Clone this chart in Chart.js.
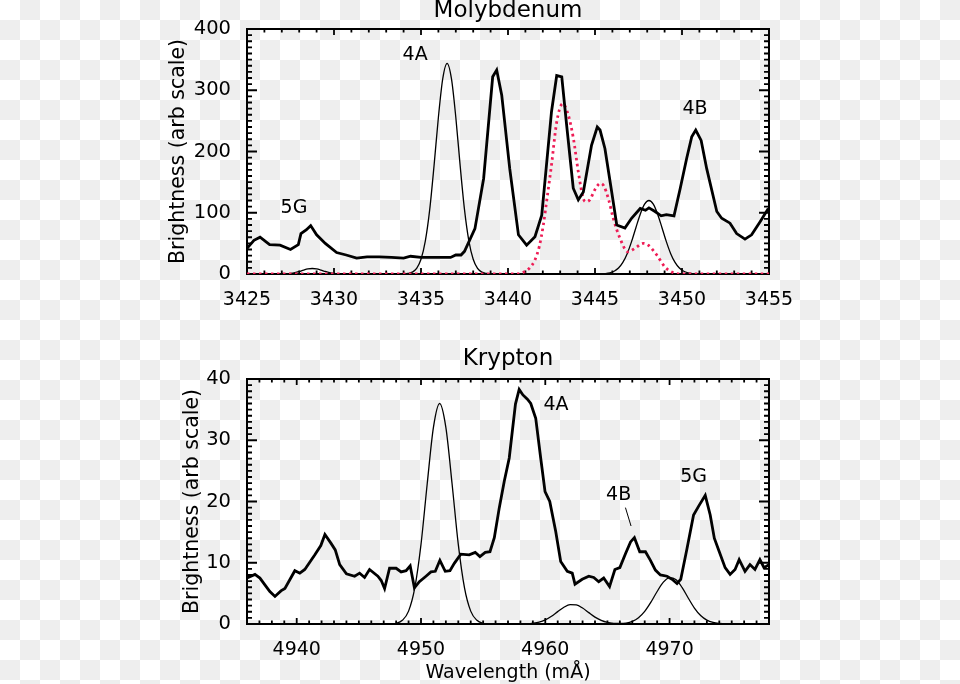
<!DOCTYPE html>
<html>
<head>
<meta charset="utf-8">
<script src="https://cdn.jsdelivr.net/npm/chart.js@4"></script>
<style>
  html, body { margin: 0; padding: 0; }
  body {
    width: 960px; height: 684px; overflow: hidden; position: relative;
    background: repeating-conic-gradient(#eeeeee 0 25%, #ffffff 0 50%) 0 0 / 40px 40px;
  }
  canvas { position: absolute; left: 0; }
</style>
</head>
<body>
<canvas id="mo" width="960" height="330" style="top:0px"></canvas>
<canvas id="kr" width="960" height="354" style="top:330px"></canvas>
<script>
// ---------------- Molybdenum data ----------------
const moXTicks = [3425, 3430, 3435, 3440, 3445, 3450, 3455];
const moYTicks = [0, 100, 200, 300, 400];

const moObsX = [3425.0,3425.4,3425.75,3426.3,3426.9,3427.5,3427.95,3428.1,3428.4,3428.66,3429.0,3429.5,3430.15,3430.7,3431.3,3431.9,3432.6,3433.3,3434.0,3434.4,3435.0,3435.6,3436.3,3436.7,3437.0,3437.3,3437.5,3438.1,3438.6,3439.12,3439.35,3439.64,3440.1,3440.6,3441.07,3441.55,3441.94,3442.5,3442.8,3443.09,3443.37,3443.75,3444.04,3444.33,3444.8,3445.13,3445.29,3445.57,3445.96,3446.25,3446.72,3447.1,3447.6,3447.9,3448.1,3448.45,3448.8,3449.1,3449.54,3449.9,3450.27,3450.56,3450.79,3451.1,3451.42,3452.0,3452.28,3452.76,3453.14,3453.62,3454.0,3454.48,3454.96];
const moObsY = [42,55,60,48,47,40,48,66,72,79,64,50,35,31,26,28,28,27,26,29,27,27,27,27,31,31,37,74,156,322,333,292,172,64,47,61,96,265,324,322,243,140,121,134,210,240,235,205,134,80,75,91,107,104,108,102,95,97,95,140,189,224,235,218,172,102,91,83,66,57,64,85,107];

const moFitX = [3425,3426.75,3427.0,3427.25,3427.5,3427.75,3428.0,3428.25,3428.5,3428.75,3429.0,3429.25,3429.5,3429.75,3430.0,3430.25,3430.5,3430.75,3433.75,3434.0,3434.25,3434.5,3434.75,3435.0,3435.25,3435.5,3435.75,3436.0,3436.25,3436.5,3436.75,3437.0,3437.25,3437.5,3437.75,3438.0,3438.25,3438.5,3438.75,3439.0,3439.25,3445.1,3445.35,3445.6,3445.85,3446.1,3446.35,3446.6,3446.85,3447.1,3447.35,3447.6,3447.85,3448.1,3448.35,3448.6,3448.85,3449.1,3449.35,3449.6,3449.85,3450.1,3450.35,3450.6,3450.85,3451.1,3455];
const moFitY = [0,0,0.1,0.4,1.0,2.2,4.1,6.4,8.3,9,8.3,6.4,4.1,2.2,1.0,0.4,0.1,0,0,0.2,0.9,3.0,9.2,24,54,105,177,256,319,344,319,256,177,105,54,24,9.2,3.0,0.9,0.2,0,0,0.2,0.7,1.9,4.5,9.7,18.9,33.2,52.8,75.6,97.7,114,120,114,97.7,75.6,52.8,33.2,18.9,9.7,4.5,1.9,0.7,0.2,0,0];

const moModX = [3425,3440.5,3440.98,3441.25,3441.55,3441.8,3442.03,3442.25,3442.5,3442.8,3443.14,3443.47,3443.76,3444.04,3444.33,3444.5,3444.7,3445.0,3445.3,3445.5,3445.77,3446.05,3446.44,3446.9,3447.3,3447.78,3448.06,3448.55,3449.0,3449.3,3449.6,3450,3455];
const moModY = [0,0,4,10,23,45,80,125,178,248,278,259,221,167,123,118,121,138,148,144,123,91,58,36,42,50,47,31,12,5,1,0,0];

const moLabelText = ['5G', '4A', '4B'];
const moLabelX = [3427.7, 3434.66, 3450.75];
const moLabelY = [108, 358, 270];

// ---------------- Krypton data ----------------
const krXTicks = [4940, 4950, 4960, 4970];
const krYTicks = [0, 10, 20, 30, 40];

const krObsX = [4936.0,4936.64,4937.04,4937.44,4937.84,4938.25,4938.73,4939.05,4939.85,4940.25,4940.65,4941.46,4941.94,4942.27,4942.75,4943.1,4943.46,4944.0,4944.66,4945.06,4945.46,4945.86,4946.53,4946.8,4947.07,4947.47,4948.0,4948.4,4948.8,4949.13,4949.47,4949.87,4950.4,4950.8,4951.15,4951.52,4951.95,4952.33,4952.68,4953.2,4953.88,4954.36,4954.74,4955.17,4955.55,4955.9,4956.3,4956.7,4957.1,4957.6,4957.9,4958.2,4958.56,4958.83,4959.23,4959.63,4959.98,4960.36,4960.84,4961.24,4961.77,4962.17,4962.39,4962.97,4963.5,4963.9,4964.3,4964.7,4965.17,4965.6,4966.0,4966.46,4966.86,4967.17,4967.6,4968.06,4968.46,4968.86,4969.26,4969.8,4970.2,4970.6,4970.9,4971.4,4971.93,4972.33,4972.87,4973.27,4973.6,4974.0,4974.47,4974.87,4975.27,4975.6,4976.07,4976.47,4976.87,4977.27,4977.6,4978.0];
const krObsY = [7.5,8.1,7.5,6.4,5.3,4.5,5.4,5.8,8.7,8.3,8.9,11.3,12.8,14.6,13.2,12.1,9.7,8.2,7.8,8.3,7.6,8.9,7.8,7.1,5.8,9.1,9.1,8.5,8.7,9.5,5.9,6.9,7.8,8.5,8.6,10.4,8.6,8.7,9.9,11.4,11.3,11.7,11.0,11.7,11.8,14.1,19.0,23.3,27.1,35.9,38.3,37.4,36.7,36.0,33.6,27.1,21.6,20.0,15.1,10.2,8.6,8.3,6.5,7.3,7.8,7.6,6.9,7.5,6.1,8.9,9.2,11.5,13.4,14.1,11.8,11.8,10.4,8.8,8.0,7.8,7.3,6.6,7.3,12.3,17.8,19.2,21.0,17.8,14.0,11.8,9.2,8.1,8.9,10.5,8.6,9.7,8.9,10.5,9.2,9.7];

const krFitX = [4936,4947.5,4948,4948.5,4949,4949.5,4950,4950.5,4951,4951.5,4952,4952.5,4953,4953.5,4954,4954.5,4955,4955.5,4958.5,4959,4959.5,4960,4960.5,4961,4961.5,4962,4962.5,4963,4963.5,4964,4964.5,4965,4965.5,4966,4966.5,4967,4967.5,4968,4968.5,4969,4969.5,4970,4970.5,4971,4971.5,4972,4972.5,4973,4973.5,4974,4974.5,4978];
const krFitY = [0,0,0.1,0.6,2.1,5.9,13.0,22.9,32.1,36,32.1,22.9,13.0,5.9,2.1,0.6,0.1,0,0,0.12,0.31,0.68,1.27,2.02,2.74,3.16,3.11,2.61,1.86,1.13,0.59,0.26,0.11,0.08,0.16,0.44,1.03,2.06,3.56,5.31,6.83,7.58,7.25,5.98,4.25,2.61,1.38,0.63,0.25,0.08,0,0];

const krLabelText = ['4A', '4B', '5G'];
const krLabelX = [4960.86, 4965.9, 4971.93];
const krLabelY = [35.8, 21.0, 24.0];
const krLeaderX = [4966.45, 4966.9];
const krLeaderY = [19.0, 16.0];

// ---------------- helpers ----------------
const pts = (xs, ys) => xs.map((x, i) => ({ x: x, y: ys[i] }));
Chart.defaults.font.family = "'DejaVu Sans', sans-serif";
Chart.defaults.color = '#000';

const framePlugin = {
  id: 'frameTicks',
  beforeDatasetsDraw(chart, args, o) {
    const { ctx, chartArea: a, scales: { x, y } } = chart;
    ctx.save();
    ctx.strokeStyle = '#000';
    ctx.lineCap = 'butt';
    const nx = Math.round((x.max - x.min) / o.xMinor);
    for (let i = 0; i <= nx; i++) {
      const v = x.min + i * o.xMinor;
      const major = Math.abs(v / o.xMajor - Math.round(v / o.xMajor)) < 1e-6;
      const len = major ? o.xMajLen : o.xMinLen;
      const px = x.getPixelForValue(v);
      ctx.lineWidth = 1.8;
      ctx.beginPath();
      ctx.moveTo(px, a.bottom); ctx.lineTo(px, a.bottom - len);
      ctx.moveTo(px, a.top); ctx.lineTo(px, a.top + len);
      ctx.stroke();
    }
    const ny = Math.round((y.max - y.min) / o.yMinor);
    for (let i = 0; i <= ny; i++) {
      const v = y.min + i * o.yMinor;
      const major = Math.abs(v / o.yMajor - Math.round(v / o.yMajor)) < 1e-6;
      const len = major ? o.yMajLen : o.yMinLen;
      const py = y.getPixelForValue(v);
      ctx.lineWidth = 1.8;
      ctx.beginPath();
      ctx.moveTo(a.left, py); ctx.lineTo(a.left + len, py);
      ctx.moveTo(a.right, py); ctx.lineTo(a.right - len, py);
      ctx.stroke();
    }
    ctx.lineWidth = 2;
    ctx.strokeRect(a.left, a.top, a.right - a.left, a.bottom - a.top);
    ctx.restore();
  },
  afterDatasetsDraw(chart, args, o) {
    const { ctx, scales: { x, y } } = chart;
    ctx.save();
    ctx.fillStyle = '#000';
    ctx.font = "19px 'DejaVu Sans'";
    ctx.textAlign = 'center';
    ctx.textBaseline = 'middle';
    (o.labelText || []).forEach((t, i) => {
      ctx.fillText(t, x.getPixelForValue(o.labelX[i]), y.getPixelForValue(o.labelY[i]));
    });
    if (o.leaderX) {
      ctx.strokeStyle = '#000';
      ctx.lineWidth = 1;
      ctx.beginPath();
      ctx.moveTo(x.getPixelForValue(o.leaderX[0]), y.getPixelForValue(o.leaderY[0]));
      ctx.lineTo(x.getPixelForValue(o.leaderX[1]), y.getPixelForValue(o.leaderY[1]));
      ctx.stroke();
    }
    ctx.restore();
  }
};

function makeChart(id, cfg) {
  const canvas = document.getElementById(id);
  const H = canvas.height;
  return new Chart(canvas, {
    type: 'line',
    data: { datasets: cfg.datasets },
    options: {
      responsive: false,
      animation: false,
      devicePixelRatio: 1,
      events: [],
      layout: { padding: { left: 0, right: 191, top: 0, bottom: 0 } },
      elements: { point: { radius: 0 } },
      plugins: {
        legend: { display: false },
        tooltip: { enabled: false },
        title: {
          display: true, text: cfg.title, color: '#000', fullSize: false,
          font: { size: 23, weight: 'normal', lineHeight: 1 },
          padding: cfg.titlePad
        },
        frameTicks: cfg.frame
      },
      scales: {
        x: {
          type: 'linear', position: 'bottom', min: cfg.xMin, max: cfg.xMax,
          grid: { display: false }, border: { display: false },
          afterBuildTicks: s => { s.ticks = cfg.xTicks.map(v => ({ value: v })); },
          ticks: { font: { size: 19 }, color: '#000', padding: 7, maxRotation: 0, autoSkip: false,
                   callback: v => String(v) },
          title: cfg.xTitle ? { display: true, text: cfg.xTitle, color: '#000', font: { size: 19 }, padding: { top: 0, bottom: 0 } } : { display: false },
          afterFit: s => { s.height = H - cfg.plotBottom; }
        },
        y: {
          type: 'linear', position: 'left', min: cfg.yMin, max: cfg.yMax,
          grid: { display: false }, border: { display: false },
          afterBuildTicks: s => { s.ticks = cfg.yTicks.map(v => ({ value: v })); },
          ticks: { font: { size: 19.5 }, color: '#000', padding: 8, callback: v => String(v) },
          title: { display: true, text: 'Brightness (arb scale)', color: '#000', font: { size: 20.5 }, padding: { top: cfg.yTitlePad, bottom: 0 } },
          afterFit: s => { s.width = 247; }
        }
      }
    },
    plugins: [framePlugin]
  });
}

makeChart('mo', {
  title: 'Molybdenum', titlePad: { top: 0, bottom: 6 },
  xMin: 3425, xMax: 3455, yMin: 0, yMax: 400,
  xTicks: moXTicks, yTicks: moYTicks, plotBottom: 274, yTitlePad: 166,
  frame: { xMinor: 1, xMajor: 5, yMinor: 10, yMajor: 100, xMajLen: 6, xMinLen: 3.5, yMajLen: 10, yMinLen: 5,
           labelText: moLabelText, labelX: moLabelX, labelY: moLabelY },
  datasets: [
    { data: pts(moObsX, moObsY), borderColor: '#000', borderWidth: 2.8, tension: 0, order: 0 },
    { data: pts(moModX, moModY), borderColor: '#ee1c55', borderWidth: 2.8, borderDash: [2.5, 3.5], cubicInterpolationMode: 'monotone', order: 1 },
    { data: pts(moFitX, moFitY), borderColor: '#000', borderWidth: 1.3, cubicInterpolationMode: 'monotone', order: 2 }
  ]
});

makeChart('kr', {
  title: 'Krypton', titlePad: { top: 17.5, bottom: 8.5 },
  xMin: 4936, xMax: 4978, yMin: 0, yMax: 40,
  xTicks: krXTicks, yTicks: krYTicks, plotBottom: 294, yTitlePad: 180,
  xTitle: 'Wavelength (mÅ)',
  frame: { xMinor: 1, xMajor: 10, yMinor: 1, yMajor: 10, xMajLen: 6, xMinLen: 3.5, yMajLen: 10, yMinLen: 5,
           labelText: krLabelText, labelX: krLabelX, labelY: krLabelY, leaderX: krLeaderX, leaderY: krLeaderY },
  datasets: [
    { data: pts(krObsX, krObsY), borderColor: '#000', borderWidth: 2.8, tension: 0, order: 0 },
    { data: pts(krFitX, krFitY), borderColor: '#000', borderWidth: 1.3, cubicInterpolationMode: 'monotone', order: 2 }
  ]
});
</script>
</body>
</html>
